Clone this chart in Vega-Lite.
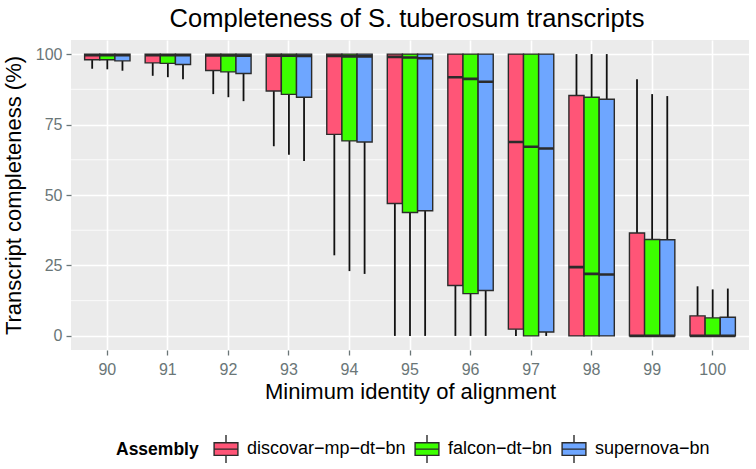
{
  "$schema": "https://vega.github.io/schema/vega-lite/v6.json",
  "autosize": {"type": "none"},
  "width": 678,
  "height": 310,
  "padding": {"left": 71, "top": 40, "right": 7, "bottom": 119},
  "background": "white",
  "title": {"text": "Completeness of S. tuberosum transcripts", "fontSize": 25.5, "font": "Liberation Sans", "fontWeight": "normal", "color": "#000000", "anchor": "middle", "offset": 8, "dx": -3},
  "config": {
    "font": "Liberation Sans",
    "view": {"fill": "#EBEBEB", "stroke": null},
    "axis": {"domain": false, "gridColor": "#FFFFFF", "gridWidth": 1.6, "tickColor": "#6A7677", "tickWidth": 1.3, "tickSize": 5, "labelColor": "#6A7677", "labelFontSize": 16, "labelFont": "Liberation Sans", "titleFont": "Liberation Sans", "titleFontSize": 22, "titleFontWeight": "normal", "titleColor": "#000000"}
  },
  "datasets": {
    "boxes": [
      {"identity": "90", "assembly": "discovar−mp−dt−bn", "lower": 94.8, "q1": 98.0, "median": 99.6, "q3": 100, "upper": 100},
      {"identity": "90", "assembly": "falcon−dt−bn", "lower": 94.6, "q1": 98.0, "median": 99.6, "q3": 100, "upper": 100},
      {"identity": "90", "assembly": "supernova−bn", "lower": 94.1, "q1": 97.6, "median": 99.6, "q3": 100, "upper": 100},
      {"identity": "91", "assembly": "discovar−mp−dt−bn", "lower": 92.3, "q1": 96.9, "median": 99.6, "q3": 100, "upper": 100},
      {"identity": "91", "assembly": "falcon−dt−bn", "lower": 91.8, "q1": 96.7, "median": 99.6, "q3": 100, "upper": 100},
      {"identity": "91", "assembly": "supernova−bn", "lower": 91.1, "q1": 96.3, "median": 99.6, "q3": 100, "upper": 100},
      {"identity": "92", "assembly": "discovar−mp−dt−bn", "lower": 85.8, "q1": 94.2, "median": 99.5, "q3": 100, "upper": 100},
      {"identity": "92", "assembly": "falcon−dt−bn", "lower": 84.7, "q1": 93.7, "median": 99.5, "q3": 100, "upper": 100},
      {"identity": "92", "assembly": "supernova−bn", "lower": 83.3, "q1": 93.1, "median": 99.4, "q3": 100, "upper": 100},
      {"identity": "93", "assembly": "discovar−mp−dt−bn", "lower": 67.3, "q1": 86.9, "median": 99.4, "q3": 100, "upper": 100},
      {"identity": "93", "assembly": "falcon−dt−bn", "lower": 64.3, "q1": 85.7, "median": 99.4, "q3": 100, "upper": 100},
      {"identity": "93", "assembly": "supernova−bn", "lower": 62.1, "q1": 84.7, "median": 99.3, "q3": 100, "upper": 100},
      {"identity": "94", "assembly": "discovar−mp−dt−bn", "lower": 28.6, "q1": 71.5, "median": 99.3, "q3": 100, "upper": 100},
      {"identity": "94", "assembly": "falcon−dt−bn", "lower": 23.0, "q1": 69.2, "median": 99.2, "q3": 100, "upper": 100},
      {"identity": "94", "assembly": "supernova−bn", "lower": 22.0, "q1": 68.8, "median": 99.2, "q3": 100, "upper": 100},
      {"identity": "95", "assembly": "discovar−mp−dt−bn", "lower": 0, "q1": 47.0, "median": 99.0, "q3": 100, "upper": 100},
      {"identity": "95", "assembly": "falcon−dt−bn", "lower": 0, "q1": 43.8, "median": 98.8, "q3": 100, "upper": 100},
      {"identity": "95", "assembly": "supernova−bn", "lower": 0, "q1": 44.4, "median": 98.5, "q3": 100, "upper": 100},
      {"identity": "96", "assembly": "discovar−mp−dt−bn", "lower": 0, "q1": 17.9, "median": 91.8, "q3": 100, "upper": 100},
      {"identity": "96", "assembly": "falcon−dt−bn", "lower": 0, "q1": 15.0, "median": 91.2, "q3": 100, "upper": 100},
      {"identity": "96", "assembly": "supernova−bn", "lower": 0, "q1": 16.1, "median": 90.2, "q3": 100, "upper": 100},
      {"identity": "97", "assembly": "discovar−mp−dt−bn", "lower": 0, "q1": 2.4, "median": 68.8, "q3": 100, "upper": 100},
      {"identity": "97", "assembly": "falcon−dt−bn", "lower": 0, "q1": 0, "median": 67.1, "q3": 100, "upper": 100},
      {"identity": "97", "assembly": "supernova−bn", "lower": 0, "q1": 1.4, "median": 66.5, "q3": 100, "upper": 100},
      {"identity": "98", "assembly": "discovar−mp−dt−bn", "lower": 0, "q1": 0, "median": 24.4, "q3": 85.3, "upper": 100},
      {"identity": "98", "assembly": "falcon−dt−bn", "lower": 0, "q1": 0, "median": 22.0, "q3": 84.7, "upper": 100},
      {"identity": "98", "assembly": "supernova−bn", "lower": 0, "q1": 0, "median": 21.8, "q3": 84.0, "upper": 100},
      {"identity": "99", "assembly": "discovar−mp−dt−bn", "lower": 0, "q1": 0, "median": 0, "q3": 36.5, "upper": 91.1},
      {"identity": "99", "assembly": "falcon−dt−bn", "lower": 0, "q1": 0, "median": 0, "q3": 34.2, "upper": 85.8},
      {"identity": "99", "assembly": "supernova−bn", "lower": 0, "q1": 0, "median": 0, "q3": 34.1, "upper": 85.1},
      {"identity": "100", "assembly": "discovar−mp−dt−bn", "lower": 0, "q1": 0, "median": 0, "q3": 7.1, "upper": 17.6},
      {"identity": "100", "assembly": "falcon−dt−bn", "lower": 0, "q1": 0, "median": 0, "q3": 6.4, "upper": 16.5},
      {"identity": "100", "assembly": "supernova−bn", "lower": 0, "q1": 0, "median": 0, "q3": 6.6, "upper": 16.8}
    ],
    "minor": [{"v": 12.5}, {"v": 37.5}, {"v": 62.5}, {"v": 87.5}]
  },
  "data": {"name": "boxes"},
  "encoding": {
    "x": {"field": "identity", "type": "nominal", "sort": ["90","91","92","93","94","95","96","97","98","99","100"],
      "scale": {"type": "band", "paddingInner": 0.25, "paddingOuter": 0.225},
      "axis": {"title": "Minimum identity of alignment", "labelAngle": 0, "bandPosition": 0.5, "grid": true, "labelPadding": 6, "titlePadding": 4}},
    "xOffset": {"field": "assembly", "type": "nominal", "scale": {"paddingInner": 0, "paddingOuter": 0}}
  },
  "layer": [
    {
      "data": {"name": "minor"},
      "mark": {"type": "rule", "color": "#FFFFFF", "strokeWidth": 0.8},
      "encoding": {"x": null, "xOffset": null, "y": {"field": "v", "type": "quantitative"}}
    },
    {
      "mark": {"type": "rule", "color": "#111111", "strokeWidth": 1.8},
      "encoding": {
        "y": {"field": "lower", "type": "quantitative", "scale": {"domain": [-5, 105], "nice": false, "zero": false},
          "axis": {"title": "Transcript completeness (%)", "values": [0, 25, 50, 75, 100], "labelPadding": 4, "titlePadding": 10}},
        "y2": {"field": "q1"}
      }
    },
    {
      "mark": {"type": "rule", "color": "#111111", "strokeWidth": 1.8},
      "encoding": {"y": {"field": "q3", "type": "quantitative"}, "y2": {"field": "upper"}}
    },
    {
      "mark": {"type": "bar", "stroke": "#2B2B2B", "strokeWidth": 1.4, "opacity": 1},
      "encoding": {
        "y": {"field": "q1", "type": "quantitative"},
        "y2": {"field": "q3"},
        "fill": {"field": "assembly", "type": "nominal",
          "scale": {"domain": ["discovar−mp−dt−bn", "falcon−dt−bn", "supernova−bn"], "range": ["#FF5577", "#3CFF00", "#6EA6FF"]},
          "legend": {"title": "Assembly", "orient": "none", "legendX": 45, "legendY": 394, "direction": "horizontal", "titleOrient": "left", "titleFontSize": 17.5, "titleFontWeight": "bold", "titleColor": "#000000", "titleFont": "Liberation Sans", "labelFontSize": 18, "labelColor": "#000000", "labelFont": "Liberation Sans", "symbolType": "M-0.85,-0.45H0.85V0.45H-0.85Z M-0.85,0H0.85 M0,-0.45V-1 M0,0.45V1", "symbolSize": 784, "symbolStrokeColor": "#2B2B2B", "symbolStrokeWidth": 1.4, "symbolOpacity": 1, "columnPadding": 6, "labelOffset": 6, "titlePadding": 12}}
      }
    },
    {
      "mark": {"type": "bar", "fill": null, "stroke": "#2B2B2B", "strokeWidth": 2.6},
      "encoding": {"y": {"field": "median", "type": "quantitative"}, "y2": {"field": "median"}}
    }
  ]
}
